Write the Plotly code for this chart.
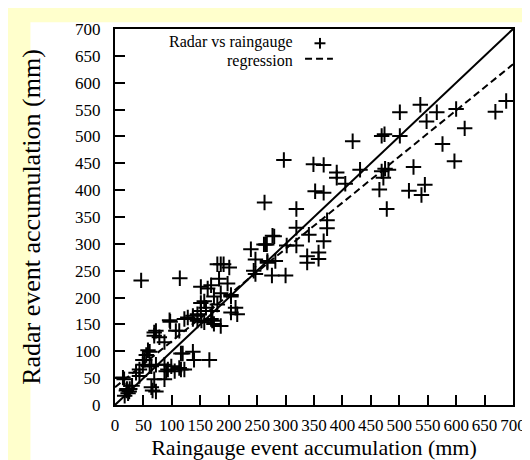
import plotly.graph_objects as go

# Raingauge (x) vs radar (y) event accumulations, mm
gauge_mm = [14, 16, 20, 26, 30, 17, 23, 21, 25, 43, 37, 43, 64, 72, 66, 69, 87,
            49, 61, 72, 87, 99, 113, 122, 105, 90, 64, 93, 116,
            49, 52, 55, 58, 61,
            119, 137, 139, 166, 116,
            72, 69, 78, 87, 69, 107, 113,
            96, 97,
            122, 137, 128, 152, 151, 171,
            46, 114,
            137, 145, 157, 169, 174, 186, 145,
            151, 160, 180, 171, 157, 212, 215, 204,
            174, 186, 204, 204,
            151, 163, 169, 183, 198,
            180, 191, 201, 186,
            239, 247, 268, 247, 276, 300, 265, 280, 267, 277, 263, 297, 244, 262,
            302, 319, 319, 319, 338, 358, 358, 338, 268, 282, 341, 367,
            349, 367, 352, 367, 373, 373,
            390, 390, 405, 431, 418,
            469, 474, 501, 469, 475, 481, 472, 465, 478, 525, 517, 545, 539,
            501, 537, 566, 548, 600, 615, 576, 597, 669, 688]
radar_mm = [51, 48, 27, 30, 36, 17, 22, 30, 25, 54, 60, 66, 33, 25, 27, 48, 48,
            75, 72, 75, 75, 72, 69, 66, 63, 63, 72, 66, 66,
            84, 84, 93, 102, 99,
            96, 99, 84, 84, 96,
            138, 129, 126, 117, 135, 138, 138,
            158, 155,
            160, 166, 163, 157, 175, 157,
            232, 236,
            160, 157, 154, 160, 151, 147, 169,
            190, 181, 187, 175, 193, 181, 169, 172,
            202, 208, 202, 205,
            220, 217, 223, 235, 226,
            262, 262, 256, 262,
            290, 271, 265, 244, 241, 241, 299, 314, 299, 315, 377, 456, 250, 299,
            297, 297, 330, 365, 277, 284, 272, 265, 268, 268, 317, 305,
            448, 447, 398, 395, 344, 329,
            433, 423, 412, 438, 491,
            501, 504, 501, 435, 440, 438, 423, 401, 365, 443, 399, 410, 391,
            545, 559, 545, 528, 551, 515, 486, 454, 546, 566]

# regression fit
reg_intercept = 33.0
reg_slope = 0.859
axis_max = 700
tick_step = 50

line_x = [0, axis_max]
identity_y = line_x
reg_y = [reg_intercept + reg_slope * v for v in line_x]

serif = "Liberation Serif, Times New Roman, serif"

fig = go.Figure()
fig.add_trace(go.Scatter(x=line_x, y=identity_y, mode="lines",
                         line=dict(color="black", width=2), showlegend=False,
                         hoverinfo="skip"))
fig.add_trace(go.Scatter(x=line_x, y=reg_y, mode="lines",
                         line=dict(color="black", width=2, dash="7px,4px"),
                         showlegend=False, hoverinfo="skip"))
fig.add_trace(go.Scatter(x=gauge_mm, y=radar_mm, mode="markers",
                         marker=dict(symbol="cross-thin", size=11,
                                     line=dict(color="black", width=2)),
                         showlegend=False))

# white panel behind the chart
fig.add_shape(type="rect", xref="paper", yref="paper",
              x0=-0.2125, x1=1.03, y0=-0.16, y1=1.018,
              fillcolor="white", line=dict(width=0), layer="below")

# hand-drawn legend (symbols to the right of the text)
fig.add_annotation(xref="paper", yref="paper", x=0.452, y=0.966,
                   text="Radar vs raingauge", showarrow=False,
                   xanchor="right", yanchor="middle",
                   font=dict(family=serif, size=16, color="black"))
fig.add_annotation(xref="paper", yref="paper", x=0.452, y=0.916,
                   text="regression", showarrow=False,
                   xanchor="right", yanchor="middle",
                   font=dict(family=serif, size=16, color="black"))
px_w, px_h = 400.0, 386.0
cx, cy, half = 0.515, 0.962, 5.5
fig.add_shape(type="line", xref="paper", yref="paper",
              x0=cx - half / px_w, x1=cx + half / px_w, y0=cy, y1=cy,
              line=dict(color="black", width=2))
fig.add_shape(type="line", xref="paper", yref="paper",
              x0=cx, x1=cx, y0=cy - half / px_h, y1=cy + half / px_h,
              line=dict(color="black", width=2))
fig.add_shape(type="line", xref="paper", yref="paper",
              x0=0.4775, x1=0.5475, y0=0.921, y1=0.921,
              line=dict(color="black", width=2, dash="7px,4px"))

axis_common = dict(range=[0, axis_max], dtick=tick_step, tick0=0,
                   ticks="inside", ticklen=10, tickwidth=2, tickcolor="black",
                   showline=True, linecolor="black", linewidth=2, mirror=True,
                   showgrid=False, zeroline=False,
                   tickfont=dict(family=serif, size=17, color="black"))

fig.update_xaxes(**axis_common,
                 title=dict(text="Raingauge event accumulation (mm)",
                            font=dict(family=serif, size=22, color="black"),
                            standoff=5),
                 ticklabelstandoff=4)
fig.update_yaxes(**axis_common,
                 title=dict(text="Radar event accumulation (mm)",
                            font=dict(family=serif, size=26, color="black"),
                            standoff=27),
                 ticklabelstandoff=9)

fig.update_layout(width=530, height=460,
                  margin=dict(l=107, r=23, t=17, b=57, pad=0),
                  paper_bgcolor="#FFFFCC", plot_bgcolor="white",
                  showlegend=False)

fig.write_html("out.html")
